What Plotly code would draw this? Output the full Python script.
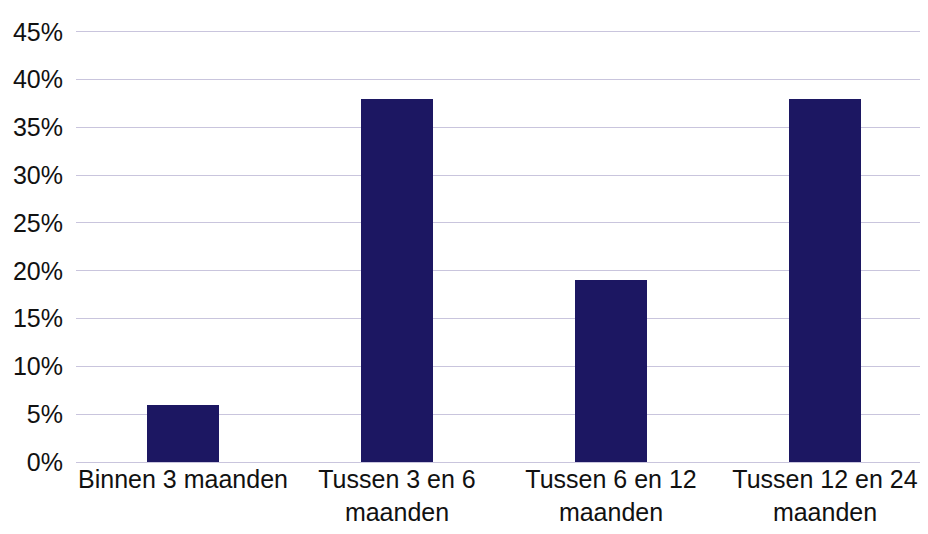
import plotly.graph_objects as go

categories = ["Binnen 3 maanden", "Tussen 3 en 6<br>maanden", "Tussen 6 en 12<br>maanden", "Tussen 12 en 24<br>maanden"]
values = [6, 38, 19, 38]
y_ticks = [0, 5, 10, 15, 20, 25, 30, 35, 40, 45]
y_tick_labels = [f"{v}%" for v in y_ticks]

bar_color = "#1c1762"
grid_color = "#c9c5dd"
font_family = "Liberation Sans, Arial, sans-serif"

fig = go.Figure(go.Bar(
    x=list(range(len(categories))),
    y=values,
    marker=dict(color=bar_color, line=dict(width=0)),
    width=72 / 214,
    hoverinfo="skip",
))

fig.update_layout(
    width=912, height=518,
    margin=dict(l=68, r=0, t=19, b=58),
    plot_bgcolor="white", paper_bgcolor="white",
    showlegend=False,
    font=dict(family=font_family, size=25, color="#111111"),
    bargap=0,
)
fig.update_xaxes(
    tickmode="array",
    tickvals=list(range(len(categories))),
    ticktext=categories,
    range=[-0.5, -0.5 + 844 / 214],
    showgrid=False, zeroline=False, showline=False, ticks="",
    tickfont=dict(size=25),
)
fig.update_yaxes(
    range=[0, 45.5],
    tickmode="array", tickvals=y_ticks, ticktext=y_tick_labels,
    showgrid=True, gridcolor=grid_color, gridwidth=1,
    zeroline=True, zerolinecolor=grid_color, zerolinewidth=1,
    showline=False, ticks="",
    ticklabelstandoff=12,
    tickfont=dict(size=25),
)

fig.write_html("out.html")
